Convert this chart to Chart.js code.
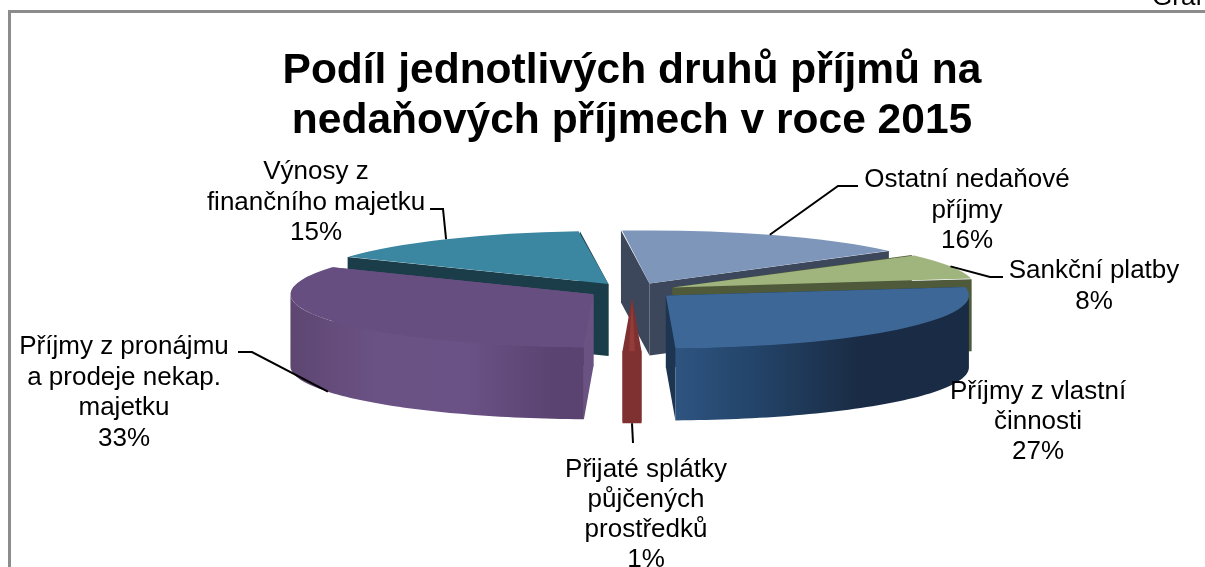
<!DOCTYPE html>
<html><head><meta charset="utf-8">
<style>html,body{margin:0;padding:0;background:#fff;overflow:hidden}#w{position:absolute;left:0;top:0;width:1205px;height:567px}</style>
<script src="https://cdn.jsdelivr.net/npm/chart.js@4"></script>
</head><body><div id="w"><canvas id="c" width="1205" height="567"></canvas></div>
<script>
const categories = ["Ostatní nedaňové příjmy","Sankční platby","Příjmy z vlastní činnosti","Přijaté splátky půjčených prostředků","Příjmy z pronájmu a prodeje nekap. majetku","Výnosy z finančního majetku"];
const values = [16,8,27,1,33,15];
const topColors = ["#7f96bb","#a0b47e","#3c6796","#953b39","#664f80","#3b86a0"];
const cutColors = ["#3c475c","#4e5a3a","#1e3551","#7e3130","#6a5283","#1a3d49"];
const wallStops = [
  [[0,"#3c475c"],[1,"#3c475c"]],
  [[0,"#4e5a3a"],[1,"#4e5a3a"]],
  [[0,"#2e5480"],[0.25,"#24456b"],[0.62,"#1a2c45"],[1,"#1a2c45"]],
  [[0,"#7e3130"],[1,"#7e3130"]],
  [[0,"#5e4672"],[0.3,"#6b5285"],[0.6,"#6a5286"],[0.9,"#5a4370"],[1,"#5a4370"]],
  [[0,"#1a3d49"],[1,"#1a3d49"]]
];
const drawOrder = [5,0,1,4,2,3];
const titleLines = ["Podíl jednotlivých druhů příjmů na","nedaňových příjmech v roce 2015"];
const labelLines = [
  ["Ostatní nedaňové","příjmy","16%"],
  ["Sankční platby","8%"],
  ["Příjmy z vlastní","činnosti","27%"],
  ["Přijaté splátky","půjčených","prostředků","1%"],
  ["Příjmy z pronájmu","a prodeje nekap.","majetku","33%"],
  ["Výnosy z","finančního majetku","15%"]
];
const labelAt = [[967,180,30.5],[1094,271,31],[1038,392,30],[646,470,30],[124,347,30.5],[316,172,30.5]];
const leaderBends = [[[838,186],[858,186]],[[990,277],[1003,277]],null,[[633,443]],[[252,352],[238,352]],[[443,209],[430,209]]];
const leaderOnBase = [false,false,false,true,true,false];

const SQUASH = 0.175, DEPTH = 72, EXPLODE = 176, RADIUS = 303;
const FONT = '"Liberation Sans", Arial, sans-serif';

function geom(arc){
  const off = arc.options.offset/4;
  const m = (arc.startAngle+arc.endAngle)/2;
  const R = arc.outerRadius;
  const tx = arc.x+Math.cos(m)*off, ty = arc.y+Math.sin(m)*off*SQUASH;
  const pt = (a,d=0)=>[tx+R*Math.cos(a), ty+R*SQUASH*Math.sin(a)+d];
  return {m,R,tx,ty,off,pt};
}
function wallRange(s,e){
  const T=Math.PI*2; let k=Math.floor(s/T); s-=k*T; e-=k*T;
  let a=Math.max(s,0), b=Math.min(e,Math.PI);
  if(b>a) return [a,b];
  a=Math.max(s,T); b=Math.min(e,T+Math.PI);
  return b>a?[a,b]:null;
}
const pie3d = {
  id:'pie3d',
  beforeDatasetsDraw(chart){
    const ctx=chart.ctx, arcs=chart.getDatasetMeta(0).data;
    drawOrder.forEach(i=>{
      const arc=arcs[i], g=geom(arc);
      ctx.save();
      ctx.fillStyle=cutColors[i];
      [arc.startAngle,arc.endAngle].forEach(a=>{
        const p=g.pt(a), q=g.pt(a,DEPTH);
        ctx.beginPath();ctx.moveTo(g.tx,g.ty);ctx.lineTo(p[0],p[1]);ctx.lineTo(q[0],q[1]);ctx.lineTo(g.tx,g.ty+DEPTH);ctx.closePath();ctx.fill();
      });
      const r=wallRange(arc.startAngle,arc.endAngle);
      if(r){
        const xs=[g.pt(r[0])[0],g.pt(r[1])[0]];
        const lo=Math.min(...xs), hi=Math.max(...xs);
        const gr=ctx.createLinearGradient(lo,0,hi,0);
        wallStops[i].forEach(s=>gr.addColorStop(s[0],s[1]));
        ctx.fillStyle=gr;
        ctx.beginPath();
        const N=60;
        for(let n=0;n<=N;n++){const p=g.pt(r[0]+(r[1]-r[0])*n/N);n?ctx.lineTo(p[0],p[1]):ctx.moveTo(p[0],p[1]);}
        for(let n=N;n>=0;n--){const p=g.pt(r[0]+(r[1]-r[0])*n/N,DEPTH);ctx.lineTo(p[0],p[1]);}
        ctx.closePath();ctx.fill();
      }
      // the arc element grows its radius by offset*(1-sin(circumference)); cancel that so faces meet the walls
      const keep=arc.outerRadius;
      arc.outerRadius=keep-g.off*(1-Math.sin(Math.min(Math.PI,arc.circumference)));
      ctx.translate(0,arc.y);ctx.scale(1,SQUASH);ctx.translate(0,-arc.y);
      arc.draw(ctx);
      arc.outerRadius=keep;
      ctx.restore();
    });
    return false;
  },
  afterDraw(chart){
    const ctx=chart.ctx, arcs=chart.getDatasetMeta(0).data;
    ctx.save();
    ctx.strokeStyle="#8c8c8c";ctx.lineWidth=3;
    ctx.beginPath();ctx.moveTo(9.5,567);ctx.lineTo(9.5,11.5);ctx.lineTo(1205,11.5);ctx.stroke();
    ctx.fillStyle="#000";ctx.font="26px "+FONT;ctx.textAlign="left";ctx.textBaseline="alphabetic";
    ctx.fillText("Graf",1152,5);
    ctx.strokeStyle="#000";ctx.lineWidth=2;
    leaderBends.forEach((b,i)=>{
      if(!b) return;
      const g=geom(arcs[i]), p=g.pt(g.m,leaderOnBase[i]?DEPTH:0);
      ctx.beginPath();ctx.moveTo(p[0],p[1]);b.forEach(q=>ctx.lineTo(q[0],q[1]));ctx.stroke();
    });
    ctx.font="26px "+FONT;ctx.textAlign="center";ctx.textBaseline="middle";
    labelLines.forEach((ls,i)=>{
      const [x,y,h]=labelAt[i];
      ls.forEach((t,n)=>ctx.fillText(t,x,y+n*h));
    });
    ctx.restore();
  }
};
new Chart(document.getElementById('c'),{
  type:'pie',
  data:{labels:categories,datasets:[{data:values,backgroundColor:topColors,borderWidth:0,offset:EXPLODE,hoverOffset:0}]},
  options:{
    responsive:false,animation:false,events:[],
    rotation:-5.4,radius:RADIUS,
    layout:{padding:{left:59,top:46,right:0,bottom:132}},
    plugins:{
      legend:{display:false},tooltip:{enabled:false},
      title:{display:true,text:titleLines,fullSize:false,color:"#000",font:{family:FONT,size:42.5,weight:'bold',lineHeight:1.176},padding:{top:0,bottom:0}}
    }
  },
  plugins:[pie3d]
});
</script></body></html>
